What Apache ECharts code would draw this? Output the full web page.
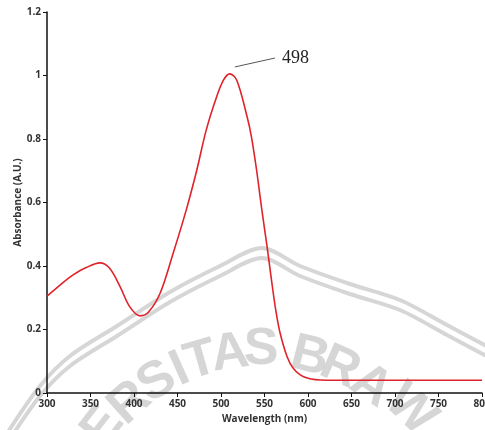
<!DOCTYPE html>
<html>
<head>
<meta charset="utf-8">
<script src="https://cdn.jsdelivr.net/npm/echarts@6/dist/echarts.min.js"></script>
<style>
  html, body { margin: 0; padding: 0; background: #fff; }
  #chart { width: 485px; height: 430px; }
</style>
</head>
<body>
<div id="chart"></div>
<script>
// spectrum
const wavelength = [300, 315, 330, 345, 361, 372, 384, 395, 407, 417, 430, 445, 460, 472, 483, 495, 503, 510, 518, 530, 535, 541, 547, 553, 558, 563, 568, 576, 583, 595, 614, 650, 700, 750, 800]
const absorbance = [0.305, 0.34, 0.372, 0.395, 0.41, 0.393, 0.335, 0.272, 0.243, 0.256, 0.314, 0.44, 0.576, 0.70, 0.828, 0.933, 0.986, 1.005, 0.986, 0.87, 0.807, 0.70, 0.576, 0.46, 0.356, 0.26, 0.188, 0.114, 0.078, 0.051, 0.041, 0.04, 0.04, 0.04, 0.04]
const peakLabel = '498'

const myChart = echarts.init(document.getElementById('chart'))

const labelFont = {
  fontFamily: 'Open Sans',
  fontWeight: 'bold',
  fontSize: 10,
  color: '#333'
}

// watermark (grey arch + letters)
const wmColor = 'rgba(200,200,200,0.75)'
const outerArc = [[8, 432], [40, 386], [70, 356], [117, 326], [170, 292], [220, 266], [262, 248], [300, 266], [350, 284], [400, 300], [447, 325], [490, 348]]
const innerArc = outerArc.map(p => [p[0], p[1] + 10])
const wmLetters = [
  ['E', 103, 427, 52], ['R', 130, 403, 42], ['S', 157, 382, 32], ['I', 180, 370, 24],
  ['T', 201, 361, 16], ['A', 230, 354, 8], ['S', 261, 350, 0], ['B', 310, 357, -14],
  ['R', 340, 368, -24], ['A', 371, 386, -34], ['W', 410, 410, -44]
]
const watermark = [
  { type: 'polyline', silent: true, z: -1, shape: { points: outerArc, smooth: 0.3 }, style: { stroke: wmColor, lineWidth: 4, fill: null } },
  { type: 'polyline', silent: true, z: -1, shape: { points: innerArc, smooth: 0.3 }, style: { stroke: wmColor, lineWidth: 4, fill: null } }
].concat(wmLetters.map(l => ({
  type: 'text',
  silent: true,
  z: -1,
  x: l[1],
  y: l[2],
  rotation: l[3] * Math.PI / 180,
  style: {
    text: l[0],
    fill: wmColor,
    font: 'bold 52px "Liberation Sans"',
    textAlign: 'center',
    textVerticalAlign: 'middle'
  }
})))

const options = {
  animation: false,
  grid: { // margins
    left: 47,
    right: 3,
    top: 12,
    bottom: 37,
    outerBoundsMode: 'none'
  },
  xAxis: {
    type: 'value',
    min: 300,
    max: 800,
    interval: 50,
    name: 'Wavelength (nm)',
    nameLocation: 'middle',
    nameGap: 21,
    nameMoveOverlap: false,
    nameTextStyle: labelFont,
    axisLine: { show: true, lineStyle: { color: '#111', width: 1.5 } },
    axisTick: { show: true, length: 4, lineStyle: { color: '#111' } },
    splitLine: { show: false },
    axisLabel: Object.assign({ margin: 6 }, labelFont)
  },
  yAxis: {
    type: 'value',
    min: 0,
    max: 1.2,
    interval: 0.2,
    name: 'Absorbance (A.U.)',
    nameLocation: 'middle',
    nameGap: 24,
    nameMoveOverlap: false,
    nameTextStyle: labelFont,
    axisLine: { show: true, lineStyle: { color: '#111', width: 1.5 } },
    axisTick: { show: true, length: 4, lineStyle: { color: '#111' } },
    splitLine: { show: false },
    axisLabel: Object.assign({ margin: 6 }, labelFont)
  },
  series: [{
    type: 'line',
    data: wavelength.map((w, i) => [w, absorbance[i]]),
    smooth: 0.35,
    showSymbol: false,
    lineStyle: { color: '#e0232b', width: 1.6 }
  }],
  graphic: watermark
}
myChart.setOption(options)

// peak annotation, placed from data coordinates
const a = myChart.convertToPixel({ gridIndex: 0 }, [516, 1.027])
const b = myChart.convertToPixel({ gridIndex: 0 }, [562, 1.055])
myChart.setOption({
  graphic: watermark.concat([
    { type: 'line', shape: { x1: a[0], y1: a[1], x2: b[0], y2: b[1] }, style: { stroke: '#555', lineWidth: 1 } },
    {
      type: 'text',
      x: b[0] + 7,
      y: b[1],
      style: {
        text: peakLabel,
        fill: '#222',
        font: '18px "Liberation Serif"',
        textAlign: 'left',
        textVerticalAlign: 'middle'
      }
    }
  ])
})
</script>
</body>
</html>
